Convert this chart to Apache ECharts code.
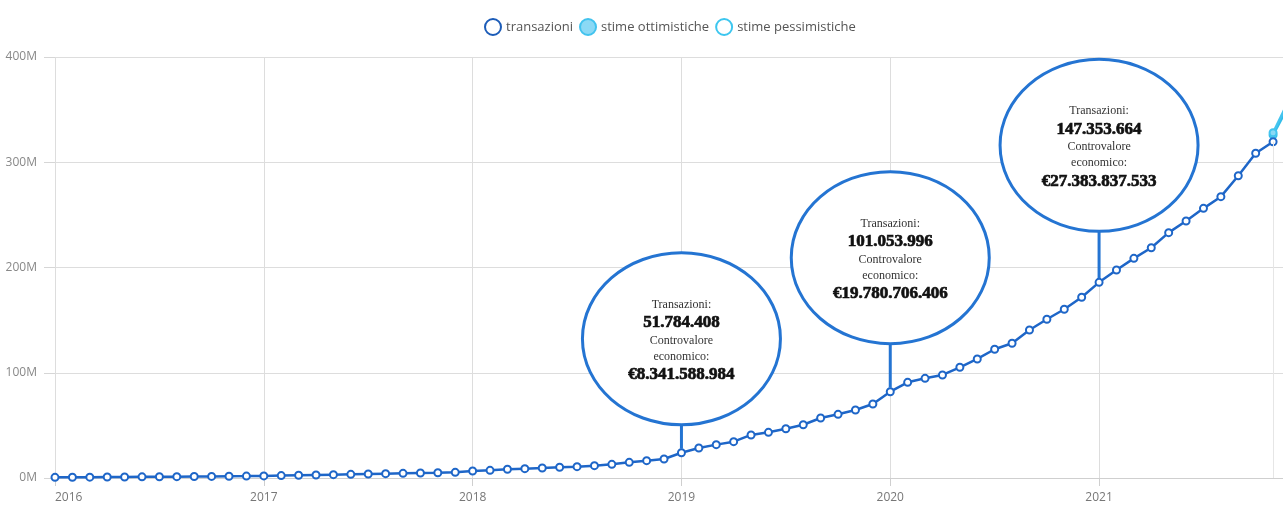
<!DOCTYPE html>
<html>
<head>
<meta charset="utf-8">
<title>Transazioni pagoPA</title>
<script src="https://cdn.jsdelivr.net/npm/echarts@6/dist/echarts.min.js"></script>
<style>
  html, body { margin: 0; padding: 0; background: #ffffff; }
  #chart { width: 1283px; height: 506px; }
</style>
</head>
<body>
<div id="chart"></div>
<script>
// Monthly periods (YYYY-MM)
const months = [
  '2016-01','2016-02','2016-03','2016-04','2016-05','2016-06','2016-07','2016-08','2016-09','2016-10','2016-11','2016-12',
  '2017-01','2017-02','2017-03','2017-04','2017-05','2017-06','2017-07','2017-08','2017-09','2017-10','2017-11','2017-12',
  '2018-01','2018-02','2018-03','2018-04','2018-05','2018-06','2018-07','2018-08','2018-09','2018-10','2018-11','2018-12',
  '2019-01','2019-02','2019-03','2019-04','2019-05','2019-06','2019-07','2019-08','2019-09','2019-10','2019-11','2019-12',
  '2020-01','2020-02','2020-03','2020-04','2020-05','2020-06','2020-07','2020-08','2020-09','2020-10','2020-11','2020-12',
  '2021-01','2021-02','2021-03','2021-04','2021-05','2021-06','2021-07','2021-08','2021-09','2021-10','2021-11'
];

// Cumulative transactions, millions
const transazioni = [
  0.6, 0.7, 0.8, 0.9, 1.0, 1.1, 1.2, 1.3, 1.4, 1.5, 1.7, 1.8,
  2.0, 2.3, 2.6, 2.9, 3.2, 3.5, 3.8, 4.1, 4.4, 4.7, 5.0, 5.4,
  6.7, 7.3, 8.3, 8.9, 9.5, 10.2, 10.8, 11.7, 13.0, 14.9, 16.5, 18.1,
  24.0, 28.5, 31.7, 34.5, 40.9, 43.4, 46.8, 50.6, 57.0, 60.5, 64.6, 70.3,
  82.0, 90.9, 94.7, 97.9, 105.2, 113.1, 122.3, 128.0, 140.6, 150.8, 160.3, 171.7,
  185.9, 197.6, 208.7, 218.8, 233.1, 244.2, 256.2, 267.3, 287.2, 308.5, 319.5
];

// Forecasts, millions
const stimeMonths = ['2021-11', '2021-12'];
const stimeOttimistiche = [328, 362];
const stimePessimistiche = [326, 357];

// Axis ticks
const yearLabels = ['2016', '2017', '2018', '2019', '2020', '2021'];
const yTicks = [0, 100, 200, 300, 400];

// Yearly callouts
const calloutMonths = ['2019-01', '2020-01', '2021-01'];
const calloutTransazioni = ['51.784.408', '101.053.996', '147.353.664'];
const calloutControvalore = ['€8.341.588.984', '€19.780.706.406', '€27.383.837.533'];

// month string -> month index since Jan 2016
function monthIndex(m) {
  const [y, mo] = m.split('-').map(Number);
  return (y - 2016) * 12 + (mo - 1);
}

const BLUE = '#1e66c8';
const CALLOUT_BLUE = '#2474d2';
const CYAN_OPT = '#43c4ef';
const CYAN_PES = '#33bde9';
const SERIF = '"Liberation Serif", "Times New Roman", serif';

const chart = echarts.init(document.getElementById('chart'), null, { renderer: 'canvas' });

const option = {
  backgroundColor: '#ffffff',
  animation: false,
  legend: {
    left: 479,
    top: 13,
    itemWidth: 16,
    itemHeight: 16,
    itemGap: 6,
    textStyle: { fontFamily: 'Open Sans', fontSize: 13, color: '#555555' },
    data: [
      { name: 'transazioni', icon: 'circle',
        itemStyle: { color: '#ffffff', borderColor: '#1c5cb8', borderWidth: 2 } },
      { name: 'stime ottimistiche', icon: 'circle',
        itemStyle: { color: '#8bd9f5', borderColor: '#42c3ee', borderWidth: 2 } },
      { name: 'stime pessimistiche', icon: 'circle',
        itemStyle: { color: '#ffffff', borderColor: '#3cc6ef', borderWidth: 2 } }
    ]
  },
  grid: { left: 55, right: 0, top: 57, bottom: 28, containLabel: false },
  xAxis: {
    type: 'value',
    min: 0,
    max: 70.57,
    interval: 12,
    axisLine: { show: true, lineStyle: { color: '#cfcfcf', width: 1 } },
    axisTick: { show: true, length: 8, lineStyle: { color: '#cfcfcf' } },
    splitLine: { show: true, lineStyle: { color: '#dddddd', width: 1 } },
    axisLabel: {
      margin: 14,
      fontFamily: 'Open Sans',
      fontSize: 12,
      color: '#777777',
      showMaxLabel: false,
      alignMinLabel: 'left',
      formatter: function (v) {
        const i = Math.round(v / 12);
        return (v % 12 === 0 && yearLabels[i]) ? yearLabels[i] : '';
      }
    }
  },
  yAxis: {
    type: 'value',
    min: yTicks[0],
    max: yTicks[yTicks.length - 1],
    interval: 100,
    axisLine: { show: false },
    axisTick: { show: true, length: 11, lineStyle: { color: '#d6d6d6' } },
    splitLine: { show: true, lineStyle: { color: '#dddddd', width: 1 } },
    axisLabel: {
      margin: 18,
      fontFamily: 'Open Sans',
      fontSize: 12,
      color: '#888888',
      formatter: function (v) { return v + 'M'; }
    }
  },
  series: [
    {
      name: 'transazioni',
      type: 'line',
      data: months.map((m, i) => [monthIndex(m), transazioni[i]]),
      symbol: 'emptyCircle',
      symbolSize: 7,
      lineStyle: { color: BLUE, width: 2.5 },
      itemStyle: { color: BLUE, borderColor: BLUE, borderWidth: 2 },
      z: 3,
      markLine: {
        silent: true,
        symbol: ['none', 'none'],
        label: { show: false },
        lineStyle: { color: '#e6e6e6', width: 1, type: 'solid' },
        data: [[
          { coord: [monthIndex(months[months.length - 1]), 0] },
          { coord: [monthIndex(months[months.length - 1]), transazioni[transazioni.length - 1]] }
        ]]
      }
    },
    {
      name: 'stime pessimistiche',
      type: 'line',
      data: stimeMonths.map((m, i) => [monthIndex(m), stimePessimistiche[i]]),
      symbol: 'emptyCircle',
      symbolSize: 7,
      lineStyle: { color: CYAN_PES, width: 2.5 },
      itemStyle: { color: CYAN_PES, borderColor: CYAN_PES, borderWidth: 2 },
      z: 2
    },
    {
      name: 'stime ottimistiche',
      type: 'line',
      data: stimeMonths.map((m, i) => [monthIndex(m), stimeOttimistiche[i]]),
      symbol: 'circle',
      symbolSize: 7,
      lineStyle: { color: CYAN_OPT, width: 2.5 },
      itemStyle: { color: '#8bd9f5', borderColor: CYAN_OPT, borderWidth: 2 },
      z: 2
    }
  ]
};

chart.setOption(option);

// Callout bubbles: stem from the data point up to an ellipse holding the yearly figures
const calloutLayout = { rx: 99, ry: 86, stems: [28, 48, 51] };

const graphics = [];
calloutMonths.forEach((m, k) => {
  const idx = months.indexOf(m);
  const p = chart.convertToPixel({ gridIndex: 0 }, [monthIndex(m), transazioni[idx]]);
  const bottom = p[1] - calloutLayout.stems[k];
  const cy = bottom - calloutLayout.ry;
  graphics.push({
    type: 'line',
    z: 100,
    silent: true,
    shape: { x1: p[0], y1: p[1] - 4, x2: p[0], y2: bottom },
    style: { stroke: CALLOUT_BLUE, lineWidth: 3 }
  });
  graphics.push({
    type: 'ellipse',
    z: 100,
    silent: true,
    shape: { cx: p[0], cy: cy, rx: calloutLayout.rx, ry: calloutLayout.ry },
    style: { fill: '#ffffff', stroke: CALLOUT_BLUE, lineWidth: 3 }
  });
  graphics.push({
    type: 'text',
    z: 101,
    silent: true,
    x: p[0],
    y: cy + 2,
    style: {
      text: '{t|Transazioni:}\n{b|' + calloutTransazioni[k] + '}\n{t|Controvalore}\n{t|economico:}\n{b|' + calloutControvalore[k] + '}',
      align: 'center',
      verticalAlign: 'middle',
      rich: {
        t: { fontFamily: SERIF, fontSize: 12, lineHeight: 16, fill: '#333333', align: 'center' },
        b: { fontFamily: SERIF, fontSize: 17, fontWeight: 700, lineHeight: 20, fill: '#111111',
             stroke: '#111111', lineWidth: 0.7, align: 'center' }
      }
    }
  });
});

chart.setOption({ graphic: { elements: graphics } });
</script>
</body>
</html>
